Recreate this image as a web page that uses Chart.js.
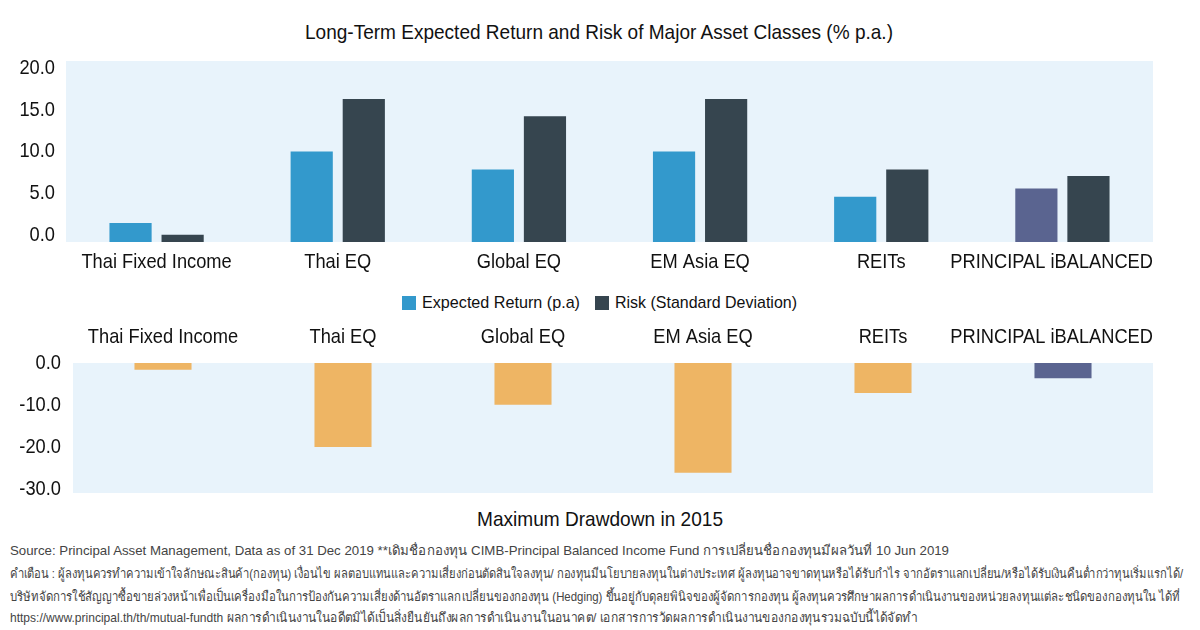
<!DOCTYPE html>
<html>
<head>
<meta charset="utf-8">
<script src="https://cdn.jsdelivr.net/npm/chart.js@4.4.0/dist/chart.umd.min.js"></script>
<style>
  body { margin: 0; background: #fff; width: 1200px; height: 630px; overflow: hidden; position: relative;
         font-family: 'Liberation Sans', Arial, sans-serif; color: #111; }
  .fit { position: absolute; white-space: nowrap; transform-origin: 0 50%; line-height: 1; }
  .box { position: absolute; width: 14px; height: 14px; }
  #topWrap { position: absolute; left: 0; top: 45px; width: 1200px; height: 245px; }
  #botWrap { position: absolute; left: 0; top: 320px; width: 1200px; height: 180px; }
  .note { font-size: 13px; color: #444; }
</style>
</head>
<body>
<!-- tiêu đề -->
<span class="fit" data-w="588" style="left:305px;top:21px;font-size:21px">Long-Term Expected Return and Risk of Major Asset Classes (% p.a.)</span>
<div id="topWrap"><canvas id="topChart"></canvas></div>

<!-- chú thích -->
<div class="box" style="left:402px;top:296px;background:#3399cc"></div>
<span class="fit" data-w="158" style="left:422px;top:294px;font-size:17px">Expected Return (p.a)</span>
<div class="box" style="left:595px;top:296px;background:#36454f"></div>
<span class="fit" data-w="182" style="left:615px;top:294px;font-size:17px">Risk (Standard Deviation)</span>

<div id="botWrap"><canvas id="botChart"></canvas></div>
<span class="fit" data-w="246" style="left:477px;top:508px;font-size:21px">Maximum Drawdown in 2015</span>

<!-- ghi chú -->
<span class="fit note" data-w="939" style="left:10px;top:544px">Source: Principal Asset Management, Data as of 31 Dec 2019 **เดิมชื่อกองทุน CIMB-Principal Balanced Income Fund การเปลี่ยนชื่อกองทุนมีผลวันที่ 10 Jun 2019</span>
<span class="fit note" data-w="1173" style="left:10px;top:567px">คำเตือน : ผู้ลงทุนควรทำความเข้าใจลักษณะสินค้า(กองทุน) เงื่อนไข ผลตอบแทนและความเสี่ยงก่อนตัดสินใจลงทุน/ กองทุนมีนโยบายลงทุนในต่างประเทศ ผู้ลงทุนอาจขาดทุนหรือได้รับกำไร จากอัตราแลกเปลี่ยน/หรือได้รับเงินคืนต่ำกว่าทุนเริ่มแรกได้/</span>
<span class="fit note" data-w="1170" style="left:10px;top:590px">บริษัทจัดการใช้สัญญาซื้อขายล่วงหน้าเพื่อเป็นเครื่องมือในการป้องกันความเสี่ยงด้านอัตราแลกเปลี่ยนของกองทุน (Hedging) ขึ้นอยู่กับดุลยพินิจของผู้จัดการกองทุน ผู้ลงทุนควรศึกษาผลการดำเนินงานของหน่วยลงทุนแต่ละชนิดของกองทุนใน ได้ที่</span>
<span class="fit note" data-w="907" style="left:10px;top:611px">https://www.principal.th/th/mutual-fundth ผลการดำเนินงานในอดีตมิได้เป็นสิ่งยืนยันถึงผลการดำเนินงานในอนาคต/ เอกสารการวัดผลการดำเนินงานของกองทุนรวมฉบับนี้ได้จัดทำ</span>

<script>
// ข้อมูล
var categories = ['Thai Fixed Income', 'Thai EQ', 'Global EQ', 'EM Asia EQ', 'REITs', 'PRINCIPAL iBALANCED'];
var expectedReturn = [2.1, 10.0, 8.0, 10.0, 5.0, 5.9];
var riskStdDev = [0.8, 15.8, 13.9, 15.8, 8.0, 7.3];
var maxDrawdown2015 = [-1.6, -19.9, -9.9, -26.0, -7.1, -3.6];
var topTicks = [0, 5, 10, 15, 20];
var bottomTicks = [0, -10, -20, -30];

var fontName = "'Liberation Sans', Arial, sans-serif";
var blue = '#3399cc', dark = '#36454f', purple = '#5a6490', orange = '#eeb564';
var squeeze = 0.87; // chữ hẹp giống font condensed

// co chữ HTML cho vừa độ rộng
document.querySelectorAll('.fit').forEach(function (el) {
    var w = el.getBoundingClientRect().width;
    el.style.transform = 'scaleX(' + (el.dataset.w / w) + ')';
});

// tô nền vùng vẽ
var plotBg = {
    id: 'plotBg',
    beforeDraw: function (chart) {
        var a = chart.chartArea, ctx = chart.ctx;
        ctx.save();
        ctx.fillStyle = '#e8f3fb';
        ctx.fillRect(a.left, a.top, a.right - a.left, a.bottom - a.top);
        ctx.restore();
    }
};

// vẽ nhãn trục bằng chữ hẹp
var narrowLabels = {
    id: 'narrowLabels',
    afterDraw: function (chart, args, opts) {
        var ctx = chart.ctx, a = chart.chartArea;
        ctx.save();
        ctx.fillStyle = '#111';
        ctx.font = '21px ' + fontName;
        ctx.textBaseline = 'middle';
        var xs = chart.scales.x;
        chart.data.labels.forEach(function (lab, i) {
            var w = ctx.measureText(lab).width * squeeze;
            var x = xs.getPixelForTick(i);
            if (x + w / 2 > a.right) x = a.right - w / 2;
            ctx.save();
            ctx.translate(x - w / 2, opts.catY);
            ctx.scale(squeeze, 1);
            ctx.textAlign = 'left';
            ctx.fillText(lab, 0, 0);
            ctx.restore();
        });
        var ys = chart.scales[opts.yAxis];
        opts.yTicks.forEach(function (v) {
            ctx.save();
            ctx.translate(a.left - opts.yPad, ys.getPixelForValue(v));
            ctx.scale(squeeze, 1);
            ctx.textAlign = 'right';
            ctx.fillText(v.toFixed(1), 0, 0);
            ctx.restore();
        });
        ctx.restore();
    }
};

// màu riêng cho PRINCIPAL iBALANCED
function colorsFor(base) {
    return categories.map(function (c) { return c === 'PRINCIPAL iBALANCED' ? purple : base; });
}

var hiddenTicks = { grid: { display: false, drawTicks: false }, border: { display: false }, ticks: { display: false } };

// biểu đồ trên
new Chart(document.getElementById('topChart'), {
    type: 'bar',
    data: {
        labels: categories,
        datasets: [{
            label: 'Expected Return (p.a)',
            data: expectedReturn,
            backgroundColor: colorsFor(blue),
            categoryPercentage: 0.575,
            barPercentage: 0.81
        }, {
            label: 'Risk (Standard Deviation)',
            data: riskStdDev,
            backgroundColor: dark,
            categoryPercentage: 0.575,
            barPercentage: 0.81
        }]
    },
    options: {
        responsive: true,
        maintainAspectRatio: false,
        animation: false,
        layout: { padding: { top: 16, right: 47, bottom: 0, left: 0 } },
        plugins: {
            legend: { display: false },
            tooltip: { enabled: false },
            narrowLabels: { catY: 217.5, yAxis: 'yLabels', yTicks: topTicks, yPad: 11 }
        },
        scales: {
            x: Object.assign({ afterFit: function (s) { s.height = 48; } }, hiddenTicks),
            y: { display: false, min: 0, max: 20 },
            // trục nhãn: nhãn hơi lệch so với vạch 0..20 như ảnh gốc
            yLabels: Object.assign({ position: 'left', min: -0.84, max: 20.84,
                afterFit: function (s) { s.width = 66; } }, hiddenTicks)
        }
    },
    plugins: [plotBg, narrowLabels]
});

// biểu đồ dưới
new Chart(document.getElementById('botChart'), {
    type: 'bar',
    data: {
        labels: categories,
        datasets: [{
            label: 'Maximum Drawdown in 2015',
            data: maxDrawdown2015,
            backgroundColor: colorsFor(orange),
            categoryPercentage: 1,
            barPercentage: 0.317
        }]
    },
    options: {
        responsive: true,
        maintainAspectRatio: false,
        animation: false,
        layout: { padding: { top: 0, right: 47, bottom: 7, left: 0 } },
        plugins: {
            legend: { display: false },
            tooltip: { enabled: false },
            narrowLabels: { catY: 17.5, yAxis: 'y', yTicks: bottomTicks, yPad: 12 }
        },
        scales: {
            x: Object.assign({ position: 'top', afterFit: function (s) { s.height = 43; } }, hiddenTicks),
            y: Object.assign({ min: -30.8, max: 0, afterFit: function (s) { s.width = 73; } }, hiddenTicks)
        }
    },
    plugins: [plotBg, narrowLabels]
});
</script>
</body>
</html>
